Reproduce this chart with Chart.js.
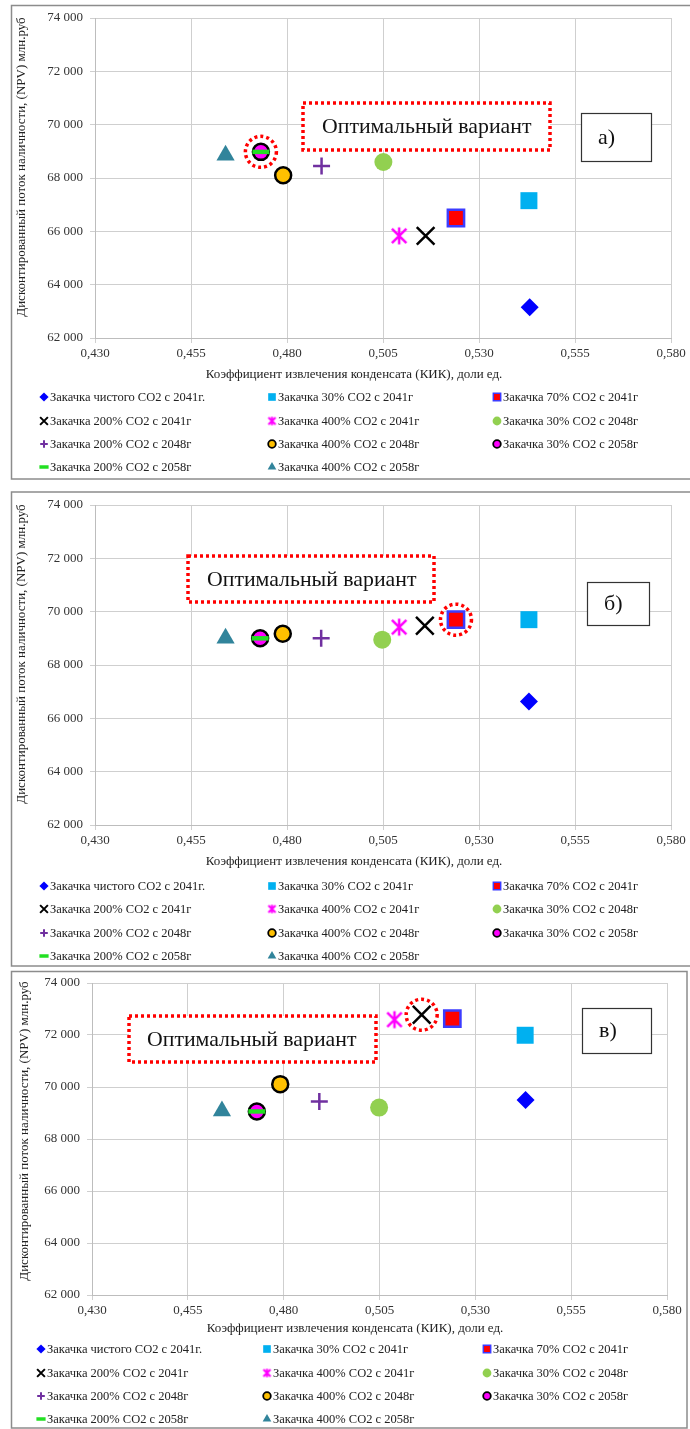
<!DOCTYPE html>
<html lang="ru">
<head>
<meta charset="UTF-8">
<title>КИК и NPV по вариантам закачки CO2</title>
<script src="https://cdn.jsdelivr.net/npm/chart.js"></script>
<style>
  body { margin: 0; background: #fff; }
  canvas { position: absolute; left: 0; }
</style>
</head>
<body>
<canvas id="chartA" width="690" height="486" style="top:0"></canvas>
<canvas id="chartB" width="690" height="482" style="top:486px"></canvas>
<canvas id="chartC" width="690" height="461" style="top:968px"></canvas>
<script>
  // варианты закачки (одна точка на вариант)
  const seriesNames = [
    'Закачка чистого CO2 с 2041г.',
    'Закачка 30% CO2 с 2041г',
    'Закачка 70% CO2 с 2041г',
    'Закачка 200% CO2 с 2041г',
    'Закачка 400% CO2 с 2041г',
    'Закачка 30% CO2 с 2048г',
    'Закачка 200% CO2 с 2048г',
    'Закачка 400% CO2 с 2048г',
    'Закачка 30% CO2 с 2058г',
    'Закачка 200% CO2 с 2058г',
    'Закачка 400% CO2 с 2058г'
  ];

  // а)
  const kikA = [0.5432, 0.5430, 0.5240, 0.5161, 0.5092, 0.5051, 0.4890, 0.4790, 0.4732, 0.4732, 0.4640];
  const npvA = [63150, 67150, 66500, 65830, 65830, 68600, 68450, 68100, 68980, 68980, 68850];
  // б)
  const kikB = [0.5430, 0.5430, 0.5240, 0.5159, 0.5092, 0.5048, 0.4889, 0.4789, 0.4730, 0.4730, 0.4640];
  const npvB = [66630, 69700, 69700, 69470, 69420, 68950, 69000, 69170, 69000, 69000, 69000];
  // в)
  const kikC = [0.5431, 0.5430, 0.5240, 0.5160, 0.5089, 0.5049, 0.4893, 0.4791, 0.4730, 0.4730, 0.4639];
  const npvC = [69500, 71990, 72630, 72780, 72590, 69210, 69440, 70110, 69060, 69060, 69080];

  const kikTicks = [0.430, 0.455, 0.480, 0.505, 0.530, 0.555, 0.580];
  const npvTicks = [62000, 64000, 66000, 68000, 70000, 72000, 74000];

  const xTitle = 'Коэффициент извлечения конденсата (КИК), доли ед.';
  const yTitle = 'Дисконтированный поток наличности, (NPV) млн.руб';
  const optText = 'Оптимальный вариант';

  const SERIF = '"Liberation Serif", "Times New Roman", serif';

  // звёздочка: вертикаль + косой крест
  function starCanvas(half, lw, color) {
    const c = document.createElement('canvas');
    const d = Math.ceil(half * 2 + lw * 2);
    c.width = c.height = d;
    const g = c.getContext('2d');
    const m = d / 2, a = half * 0.85;
    g.strokeStyle = color;
    g.lineWidth = lw;
    g.beginPath();
    g.moveTo(m, m - half); g.lineTo(m, m + half);
    g.moveTo(m - a, m - a); g.lineTo(m + a, m + a);
    g.moveTo(m + a, m - a); g.lineTo(m - a, m + a);
    g.stroke();
    return c;
  }

  const markers = [
    { style: 'rectRot',  r: 9,    fill: '#0000ff', bw: 0,   lr: 4.6, lbw: 0 },
    { style: 'rect',     r: 12,   fill: '#00b0f0', bw: 0,   lr: 5.4, lbw: 0 },
    { style: 'rect',     r: 11.5, fill: '#ff0000', stroke: '#3c3cff', bw: 2.5, lr: 5.2, lbw: 1.5 },
    { style: 'crossRot', r: 12.5, stroke: '#000000', bw: 2.5, lr: 5.5, lbw: 2 },
    { style: starCanvas(8.5, 2.5, '#ff00ff'), small: starCanvas(4.2, 2, '#ff00ff'), r: 9, bw: 0, lr: 4, lbw: 0 },
    { style: 'circle',   r: 9,    fill: '#92d050', bw: 0,   lr: 4.4, lbw: 0 },
    { style: 'cross',    r: 8.5,  stroke: '#7030a0', bw: 2.5, lr: 3.8, lbw: 2 },
    { style: 'circle',   r: 8,    fill: '#ffc000', stroke: '#000000', bw: 2.5, lr: 3.8, lbw: 1.8 },
    { style: 'circle',   r: 8,    fill: '#ff00ff', stroke: '#000000', bw: 2.5, lr: 3.8, lbw: 1.8 },
    { style: 'line',     r: 8.5,  stroke: '#22e022', bw: 4.5, lr: 4.6, lbw: 3.5 },
    { style: 'triangle', r: 10.5, fill: '#31849b', bw: 0,   lr: 5, lbw: 0 }
  ];

  const panels = [
    { id: 'chartA', kik: kikA, npv: npvA, best: 8,
      area: { left: 95, top: 18, right: 671, bottom: 338 },
      frame: { x: 11.5, y: 5.5, r: 720, b: 479 },
      yTitle: { x: 22, y: 167 }, xTitleY: 375, xTitleX: 354,
      rows: [397, 421, 444, 467], cols: [40, 268, 493],
      opt: { x: 303, y: 103, w: 247, h: 47, tx: 322 },
      tag: { x: 581, y: 113, w: 70, h: 48, text: 'а)' } },
    { id: 'chartB', kik: kikB, npv: npvB, best: 2,
      area: { left: 95, top: 19, right: 671, bottom: 339 },
      frame: { x: 11.5, y: 6, r: 720, b: 480 },
      yTitle: { x: 22, y: 168 }, xTitleY: 376, xTitleX: 354,
      rows: [400, 423, 447, 470], cols: [40, 268, 493],
      opt: { x: 188, y: 70, w: 246, h: 46, tx: 207 },
      tag: { x: 587, y: 96, w: 62, h: 43, text: 'б)' } },
    { id: 'chartC', kik: kikC, npv: npvC, best: 3,
      area: { left: 92, top: 15, right: 667, bottom: 327 },
      frame: { x: 11.5, y: 3.5, r: 687, b: 460 },
      yTitle: { x: 25, y: 163 }, xTitleY: 361, xTitleX: 355,
      rows: [381, 405, 428, 451], cols: [37, 263, 483],
      opt: { x: 129, y: 48, w: 247, h: 46, tx: 147 },
      tag: { x: 582, y: 40, w: 69, h: 45, text: 'в)' } }
  ];

  function fmtKik(v) { return v.toFixed(3).replace('.', ','); }
  function fmtNpv(v) { return Math.round(v).toString().replace(/\B(?=(\d{3})+(?!\d))/g, ' '); }

  function paintMarker(ctx, m, style, x, y, r, bw) {
    ctx.save();
    ctx.fillStyle = m.fill || 'rgba(0,0,0,0)';
    ctx.strokeStyle = m.stroke || m.fill || '#000';
    ctx.lineWidth = bw;
    Chart.helpers.drawPoint(ctx, { pointStyle: style, radius: r, rotation: 0, borderWidth: bw }, x, y);
    ctx.restore();
  }

  // рамка, подписи осей, легенда, выноски
  const sheetDecor = {
    id: 'sheetDecor',
    beforeDraw(chart, args, o) {
      const ctx = chart.ctx, f = o.frame;
      ctx.save();
      ctx.strokeStyle = '#8c8c8c';
      ctx.lineWidth = 1.5;
      ctx.strokeRect(f.x, f.y, f.r - f.x, f.b - f.y);
      ctx.restore();
    },
    afterDraw(chart, args, o) {
      const ctx = chart.ctx;
      ctx.save();
      ctx.fillStyle = '#222';
      ctx.textBaseline = 'middle';

      ctx.font = '13px ' + SERIF;
      ctx.textAlign = 'center';
      ctx.fillText(xTitle, o.xTitleX, o.xTitleY);

      ctx.save();
      ctx.translate(o.yTitle.x, o.yTitle.y);
      ctx.rotate(-Math.PI / 2);
      ctx.fillText(yTitle, 0, 0);
      ctx.restore();

      // легенда в три колонки
      ctx.font = '12.5px ' + SERIF;
      ctx.textAlign = 'left';
      chart.data.datasets.forEach((ds, i) => {
        const m = markers[i];
        const cx = o.cols[i % 3], cy = o.rows[Math.floor(i / 3)];
        paintMarker(ctx, m, m.small || m.style, cx + 4, cy, m.lr, m.lbw);
        ctx.fillStyle = '#222';
        ctx.fillText(ds.label, cx + 10, cy + 0.5);
      });

      // выделение оптимальной точки
      const xs = chart.scales.x, ys = chart.scales.y;
      const px = xs.getPixelForValue(o.kik[o.best]);
      const py = ys.getPixelForValue(o.npv[o.best]);
      ctx.strokeStyle = '#ff0000';
      ctx.lineWidth = 3.5;
      ctx.setLineDash([3, 3]);
      ctx.beginPath();
      ctx.arc(px, py, 15.5, 0, Math.PI * 2);
      ctx.stroke();

      // выноска «Оптимальный вариант»
      const b = o.opt;
      ctx.fillStyle = '#fff';
      ctx.fillRect(b.x, b.y, b.w, b.h);
      ctx.strokeRect(b.x, b.y, b.w, b.h);
      ctx.setLineDash([]);
      ctx.fillStyle = '#111';
      ctx.font = '21.8px ' + SERIF;
      ctx.fillText(optText, b.tx, b.y + b.h / 2 + 1);

      const t = o.tag;
      ctx.fillStyle = '#fff';
      ctx.fillRect(t.x, t.y, t.w, t.h);
      ctx.strokeStyle = '#333';
      ctx.lineWidth = 1.2;
      ctx.strokeRect(t.x + 0.5, t.y + 0.5, t.w, t.h);
      ctx.fillStyle = '#111';
      ctx.font = '22px ' + SERIF;
      ctx.fillText(t.text, t.x + 17, t.y + t.h / 2 + 1);
      ctx.restore();
    }
  };

  function buildChart(p) {
    const canvas = document.getElementById(p.id);
    const W = canvas.width, H = canvas.height;
    const datasets = seriesNames.map((name, i) => {
      const m = markers[i];
      return {
        label: name,
        data: [{ x: p.kik[i], y: p.npv[i] }],
        pointStyle: m.style,
        pointRadius: m.r,
        pointHoverRadius: m.r,
        pointBackgroundColor: m.fill || 'rgba(0,0,0,0)',
        pointBorderColor: m.stroke || m.fill,
        pointBorderWidth: m.bw,
        order: i === 9 ? -1 : i
      };
    });
    const tickFont = { family: SERIF, size: 13 };
    return new Chart(canvas, {
      type: 'scatter',
      data: { datasets },
      options: {
        responsive: false,
        animation: false,
        devicePixelRatio: 1,
        layout: { padding: { left: 0, top: p.area.top, right: W - p.area.right, bottom: 0 } },
        plugins: {
          legend: { display: false },
          tooltip: { enabled: false },
          sheetDecor: p
        },
        scales: {
          x: {
            type: 'linear',
            min: kikTicks[0],
            max: kikTicks[kikTicks.length - 1],
            afterBuildTicks: s => { s.ticks = kikTicks.map(v => ({ value: v })); },
            afterFit: s => { s.height = H - p.area.bottom; },
            ticks: { callback: fmtKik, font: tickFont, color: '#333', padding: 3, maxRotation: 0, autoSkip: false },
            grid: { color: '#cfcfcf', lineWidth: 1, tickLength: 5 },
            border: { color: '#bdbdbd' }
          },
          y: {
            type: 'linear',
            min: npvTicks[0],
            max: npvTicks[npvTicks.length - 1],
            afterBuildTicks: s => { s.ticks = npvTicks.map(v => ({ value: v })); },
            afterFit: s => { s.width = p.area.left; },
            ticks: { callback: fmtNpv, font: tickFont, color: '#333', padding: 7, autoSkip: false },
            grid: { color: '#cfcfcf', lineWidth: 1, tickLength: 5 },
            border: { color: '#bdbdbd' }
          }
        }
      },
      plugins: [sheetDecor]
    });
  }

  panels.forEach(buildChart);
</script>
</body>
</html>
